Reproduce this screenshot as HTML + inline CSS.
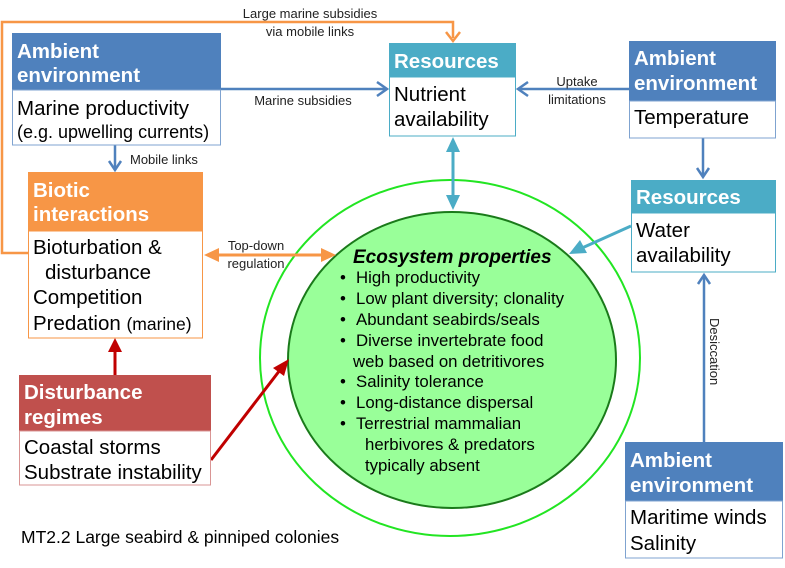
<!DOCTYPE html>
<html><head><meta charset="utf-8"><style>
html,body{margin:0;padding:0;background:#fff;}
svg{display:block;}
text{font-family:"Liberation Sans",Arial,sans-serif;}
.h{font-weight:bold;fill:#fff;font-size:20.5px;}
.b{fill:#000;font-size:20.5px;}
.l{fill:#222;font-size:13px;}
.e{fill:#000;font-size:16.8px;}
</style></head><body>
<svg width="785" height="568" viewBox="0 0 785 568" xmlns="http://www.w3.org/2000/svg">
<ellipse cx="450" cy="358" rx="190" ry="178" fill="none" stroke="#22e522" stroke-width="2"/>
<ellipse cx="452" cy="360" rx="164" ry="148" fill="#99ff99" stroke="#1a7a1a" stroke-width="2"/>

<polyline points="28,253 2,253 2,22 453,22 453,38" fill="none" stroke="#f79646" stroke-width="2.5"/>
<polyline points="446,32 453,41 460,32" fill="none" stroke="#f79646" stroke-width="2.5"/>
<text class="l" x="310" y="18" text-anchor="middle">Large marine subsidies</text>
<text class="l" x="310" y="36" text-anchor="middle">via mobile links</text>

<line x1="221" y1="89" x2="386" y2="89" stroke="#4f81bd" stroke-width="2.5"/>
<polyline points="377,82 387,89 377,96" fill="none" stroke="#4f81bd" stroke-width="2.5"/>
<text class="l" x="303" y="105" text-anchor="middle">Marine subsidies</text>

<line x1="629" y1="89" x2="519" y2="89" stroke="#4f81bd" stroke-width="2.5"/>
<polyline points="528,82 518,89 528,96" fill="none" stroke="#4f81bd" stroke-width="2.5"/>
<text class="l" x="577" y="86" text-anchor="middle">Uptake</text>
<text class="l" x="577" y="104" text-anchor="middle">limitations</text>

<line x1="115" y1="145" x2="115" y2="168" stroke="#4f81bd" stroke-width="2.5"/>
<polyline points="109,161 115,170 121,161" fill="none" stroke="#4f81bd" stroke-width="2.5"/>
<text class="l" x="130" y="164">Mobile links</text>

<line x1="703" y1="138" x2="703" y2="176" stroke="#4f81bd" stroke-width="2.5"/>
<polyline points="697,168 703,177 709,168" fill="none" stroke="#4f81bd" stroke-width="2.5"/>

<line x1="704" y1="442" x2="704" y2="276" stroke="#4f81bd" stroke-width="2.5"/>
<polyline points="698,284 704,275 710,284" fill="none" stroke="#4f81bd" stroke-width="2.5"/>
<text class="l" x="0" y="0" transform="translate(710,318) rotate(90)">Desiccation</text>

<line x1="453" y1="150" x2="453" y2="196" stroke="#4bacc6" stroke-width="3"/>
<polygon points="446,152 453,137 460,152" fill="#4bacc6"/>
<polygon points="446,195 453,210 460,195" fill="#4bacc6"/>
<line x1="631" y1="226" x2="582" y2="248" stroke="#4bacc6" stroke-width="3"/>
<polygon points="569,254 580,240 587,253" fill="#4bacc6"/>

<line x1="215" y1="255" x2="323" y2="255" stroke="#f79646" stroke-width="3"/>
<polygon points="204,255 219,248 219,262" fill="#f79646"/>
<polygon points="336,255 321,248 321,262" fill="#f79646"/>
<text class="l" x="256" y="250" text-anchor="middle">Top-down</text>
<text class="l" x="256" y="268" text-anchor="middle">regulation</text>

<line x1="115" y1="375" x2="115" y2="350" stroke="#c00000" stroke-width="3"/>
<polygon points="108,352 115,338 122,352" fill="#c00000"/>
<line x1="211" y1="460" x2="280" y2="370" stroke="#c00000" stroke-width="3"/>
<polygon points="289,359 284,376 273,368" fill="#c00000"/>

<rect x="12" y="33" width="209" height="57" fill="#4f81bd"/>
<rect x="12.5" y="90" width="208" height="55" fill="#fff" stroke="#7fa3d0" stroke-width="1"/>
<text class="h" x="17" y="58">Ambient</text>
<text class="h" x="17" y="82">environment</text>
<text class="b" x="17" y="115">Marine productivity</text>
<text class="b" x="17" y="138" style="font-size:18px">(e.g. upwelling currents)</text>

<rect x="389" y="43" width="127" height="34" fill="#4bacc6"/>
<rect x="389.5" y="77" width="126" height="59" fill="#fff" stroke="#4bacc6" stroke-width="1"/>
<text class="h" x="394" y="68">Resources</text>
<text class="b" x="394" y="101">Nutrient</text>
<text class="b" x="394" y="126">availability</text>

<rect x="629" y="41" width="147" height="60" fill="#4f81bd"/>
<rect x="629.5" y="101" width="146" height="37" fill="#fff" stroke="#7fa3d0" stroke-width="1"/>
<text class="h" x="634" y="65">Ambient</text>
<text class="h" x="634" y="90">environment</text>
<text class="b" x="634" y="124">Temperature</text>

<rect x="631" y="180" width="145" height="33" fill="#4bacc6"/>
<rect x="631.5" y="213" width="144" height="59" fill="#fff" stroke="#4bacc6" stroke-width="1"/>
<text class="h" x="636" y="204">Resources</text>
<text class="b" x="636" y="237">Water</text>
<text class="b" x="636" y="262">availability</text>

<rect x="28" y="172" width="175" height="59" fill="#f79646"/>
<rect x="28.5" y="231" width="174" height="107" fill="#fff" stroke="#f79646" stroke-width="1"/>
<text class="h" x="33" y="197">Biotic</text>
<text class="h" x="33" y="221">interactions</text>
<text class="b" x="33" y="254">Bioturbation &amp;</text>
<text class="b" x="45" y="279">disturbance</text>
<text class="b" x="33" y="304">Competition</text>
<text class="b" x="33" y="330">Predation <tspan style="font-size:17.5px">(marine)</tspan></text>

<rect x="19" y="375" width="192" height="56" fill="#c0504d"/>
<rect x="19.5" y="431" width="191" height="54" fill="#fff" stroke="#d99594" stroke-width="1"/>
<text class="h" x="24" y="399">Disturbance</text>
<text class="h" x="24" y="424">regimes</text>
<text class="b" x="24" y="454">Coastal storms</text>
<text class="b" x="24" y="479">Substrate instability</text>

<rect x="625" y="442" width="158" height="59" fill="#4f81bd"/>
<rect x="625.5" y="501" width="157" height="57" fill="#fff" stroke="#7fa3d0" stroke-width="1"/>
<text class="h" x="630" y="467">Ambient</text>
<text class="h" x="630" y="492">environment</text>
<text class="b" x="630" y="524">Maritime winds</text>
<text class="b" x="630" y="550">Salinity</text>

<text x="353" y="263" style="font-size:19px;font-weight:bold;font-style:italic;fill:#000">Ecosystem properties</text>
<text class="e" x="340" y="283">•</text><text class="e" x="356" y="283">High productivity</text>
<text class="e" x="340" y="304">•</text><text class="e" x="356" y="304">Low plant diversity; clonality</text>
<text class="e" x="340" y="325">•</text><text class="e" x="356" y="325">Abundant seabirds/seals</text>
<text class="e" x="340" y="346">•</text><text class="e" x="356" y="346">Diverse invertebrate food</text>
<text class="e" x="353" y="367">web based on detritivores</text>
<text class="e" x="340" y="387">•</text><text class="e" x="356" y="387">Salinity tolerance</text>
<text class="e" x="340" y="408">•</text><text class="e" x="356" y="408">Long-distance dispersal</text>
<text class="e" x="340" y="429">•</text><text class="e" x="356" y="429">Terrestrial mammalian</text>
<text class="e" x="365" y="450">herbivores &amp; predators</text>
<text class="e" x="365" y="471">typically absent</text>

<text x="21" y="543" style="font-size:17.5px;fill:#000">MT2.2 Large seabird &amp; pinniped colonies</text>
</svg>
</body></html>
